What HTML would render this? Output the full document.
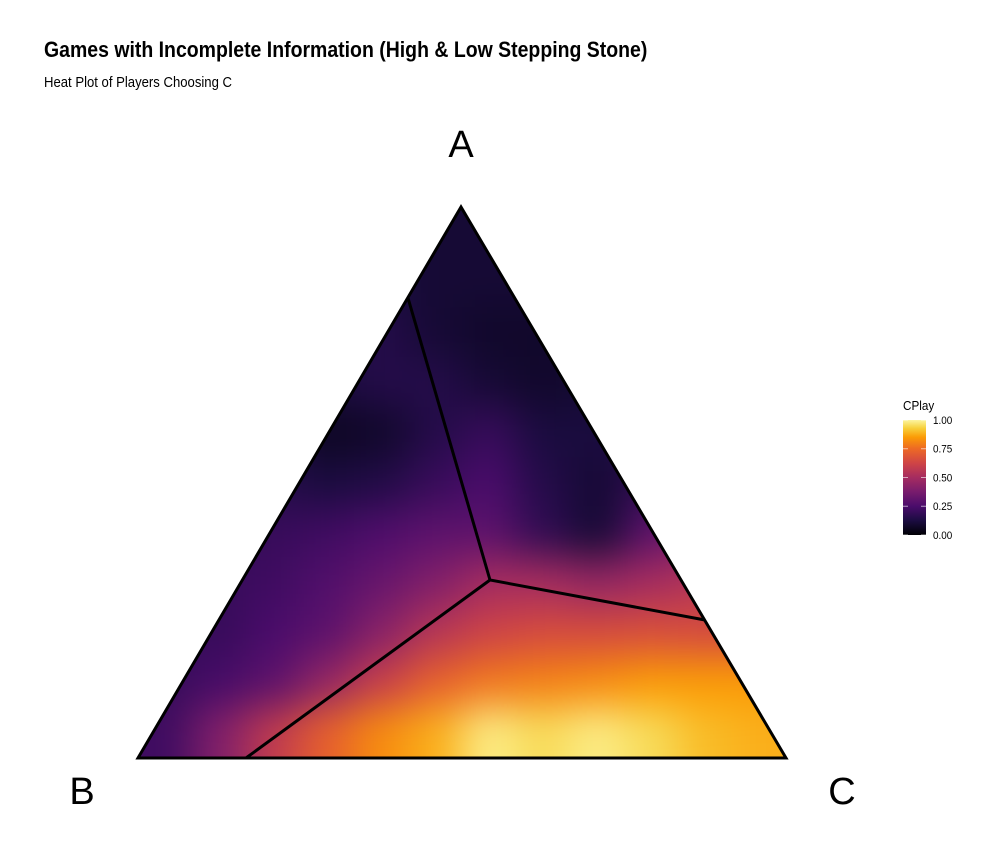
<!DOCTYPE html>
<html><head><meta charset="utf-8">
<style>
html,body{margin:0;padding:0;background:#fff;}
svg{display:block;font-family:"Liberation Sans",sans-serif;}
</style></head>
<body>
<svg id="chart" width="1000" height="866" viewBox="0 0 1000 866">
<defs>
  <clipPath id="tri"><polygon points="461,207 138,758 786,758"/></clipPath>
  <filter id="blur" filterUnits="userSpaceOnUse" x="0" y="100" width="1000" height="766" color-interpolation-filters="sRGB" filterRes="1000 766"><feGaussianBlur stdDeviation="20"/></filter>
  <linearGradient id="lg" x1="0" y1="1" x2="0" y2="0">
    <stop offset="0" stop-color="#000004"/>
    <stop offset="0.125" stop-color="#1b0c41"/>
    <stop offset="0.25" stop-color="#4a0c6b"/>
    <stop offset="0.375" stop-color="#781c6d"/>
    <stop offset="0.5" stop-color="#a52c60"/>
    <stop offset="0.625" stop-color="#cf4446"/>
    <stop offset="0.75" stop-color="#ed6925"/>
    <stop offset="0.85" stop-color="#fb9b06"/>
    <stop offset="0.93" stop-color="#f7d13d"/>
    <stop offset="1" stop-color="#fcf5a0"/>
  </linearGradient>
</defs>
<text x="44" y="57" font-size="22" font-weight="bold" transform="translate(44,0) scale(0.885,1) translate(-44,0)">Games with Incomplete Information (High &amp; Low Stepping Stone)</text>
<text x="44" y="87" font-size="15" transform="translate(44,0) scale(0.875,1) translate(-44,0)">Heat Plot of Players Choosing C</text>
<g clip-path="url(#tri)">
  <g id="cells" filter="url(#blur)"></g>
</g>
<g fill="none" stroke="#000" stroke-width="3">
  <polyline points="408,298 490,580 705,620"/>
  <line x1="490" y1="580" x2="246" y2="758"/>
</g>
<polygon points="461,207 138,758 786,758" fill="none" stroke="#000" stroke-width="3"/>
<text x="461" y="157" font-size="38" text-anchor="middle">A</text>
<text x="82" y="804" font-size="38" text-anchor="middle">B</text>
<text x="842" y="804" font-size="38" text-anchor="middle">C</text>
<g>
  <text x="903" y="410" font-size="13" transform="translate(903,0) scale(0.9,1) translate(-903,0)">CPlay</text>
  <rect x="903" y="420" width="23" height="115" fill="url(#lg)"/>
  <g id="legendTicks"></g>
</g>
</svg>
<script>
var xCenters = [165,219,273,327,381,435,489,543,597,651,705,759];
var yCenters = [232,282,332,382,432,482,532,582,632,682,732];
var cplayRow0 = [.15,.15,.15,.15,.12,.1,.1,.1,.1,.1,.1,.1];
var cplayRow1 = [.15,.15,.15,.15,.12,.1,.1,.1,.1,.1,.1,.1];
var cplayRow2 = [.15,.15,.15,.15,.15,.1,.08,.08,.1,.1,.1,.1];
var cplayRow3 = [.15,.15,.15,.12,.15,.15,.1,.08,.1,.12,.12,.12];
var cplayRow4 = [.15,.15,.12,.06,.08,.15,.2,.12,.12,.15,.15,.15];
var cplayRow5 = [.18,.18,.15,.12,.14,.2,.25,.15,.1,.18,.25,.25];
var cplayRow6 = [.2,.2,.2,.22,.26,.3,.3,.18,.1,.3,.4,.4];
var cplayRow7 = [.2,.2,.22,.27,.33,.4,.5,.5,.45,.5,.55,.55];
var cplayRow8 = [.2,.2,.25,.3,.42,.55,.62,.65,.65,.66,.65,.65];
var cplayRow9 = [.2,.24,.3,.45,.6,.72,.78,.8,.82,.85,.85,.85];
var cplayRow10 = [.22,.4,.58,.72,.82,.88,.98,.95,.98,.95,.9,.88];
var grid = [cplayRow0,cplayRow1,cplayRow2,cplayRow3,cplayRow4,cplayRow5,cplayRow6,cplayRow7,cplayRow8,cplayRow9,cplayRow10];
var tickValues = [0,0.25,0.5,0.75,1];
var tickLabels = ["0.00","0.25","0.50","0.75","1.00"];

var stops = [[0,[0,0,4]],[0.125,[27,12,65]],[0.25,[74,12,107]],[0.375,[120,28,109]],[0.5,[165,44,96]],[0.625,[207,68,70]],[0.75,[237,105,37]],[0.85,[251,155,6]],[0.93,[247,209,61]],[1,[252,245,160]]];
function color(v){
  v=Math.max(0,Math.min(1,v));
  for(var i=1;i<stops.length;i++){
    if(v<=stops[i][0]){
      var a=stops[i-1],b=stops[i],t=(v-a[0])/(b[0]-a[0]);
      var c=[0,1,2].map(function(k){return Math.round(a[1][k]+(b[1][k]-a[1][k])*t);});
      return 'rgb('+c.join(',')+')';
    }
  }
  return 'rgb(252,245,160)';
}
var NS="http://www.w3.org/2000/svg";
var cw=54, ch=50;
var cells=document.getElementById('cells');
grid.forEach(function(row,r){
  row.forEach(function(v,c){
    var rect=document.createElementNS(NS,'rect');
    var x=xCenters[c]-cw/2, y=yCenters[r]-ch/2, w=cw, h=ch;
    if(c===0){x-=60;w+=60;} if(c===row.length-1){w+=60;}
    if(r===0){y-=60;h+=60;} if(r===grid.length-1){h+=60;}
    rect.setAttribute('x',x);rect.setAttribute('y',y);
    rect.setAttribute('width',w+0.5);rect.setAttribute('height',h+0.5);
    rect.setAttribute('fill',color(v));
    
    
    cells.appendChild(rect);
  });
});
function ly(v){return 535-v*115;}
var lt=document.getElementById('legendTicks');
tickValues.forEach(function(v,i){
  var y=ly(v);
  var t=document.createElementNS(NS,'text');
  t.setAttribute('x',933);t.setAttribute('y',y+4);t.setAttribute('font-size','11');
  t.setAttribute('transform','translate(933,0) scale(0.9,1) translate(-933,0)');
  t.textContent=tickLabels[i];
  
  
  lt.appendChild(t);
  [[903,908],[921,926]].forEach(function(p){
    var l=document.createElementNS(NS,'line');
    l.setAttribute('x1',p[0]);l.setAttribute('x2',p[1]);l.setAttribute('y1',y);l.setAttribute('y2',y);
    l.setAttribute('stroke','#fff');l.setAttribute('stroke-opacity','0.6');
    
    
    lt.appendChild(l);
  });
});
</script>
</body></html>
